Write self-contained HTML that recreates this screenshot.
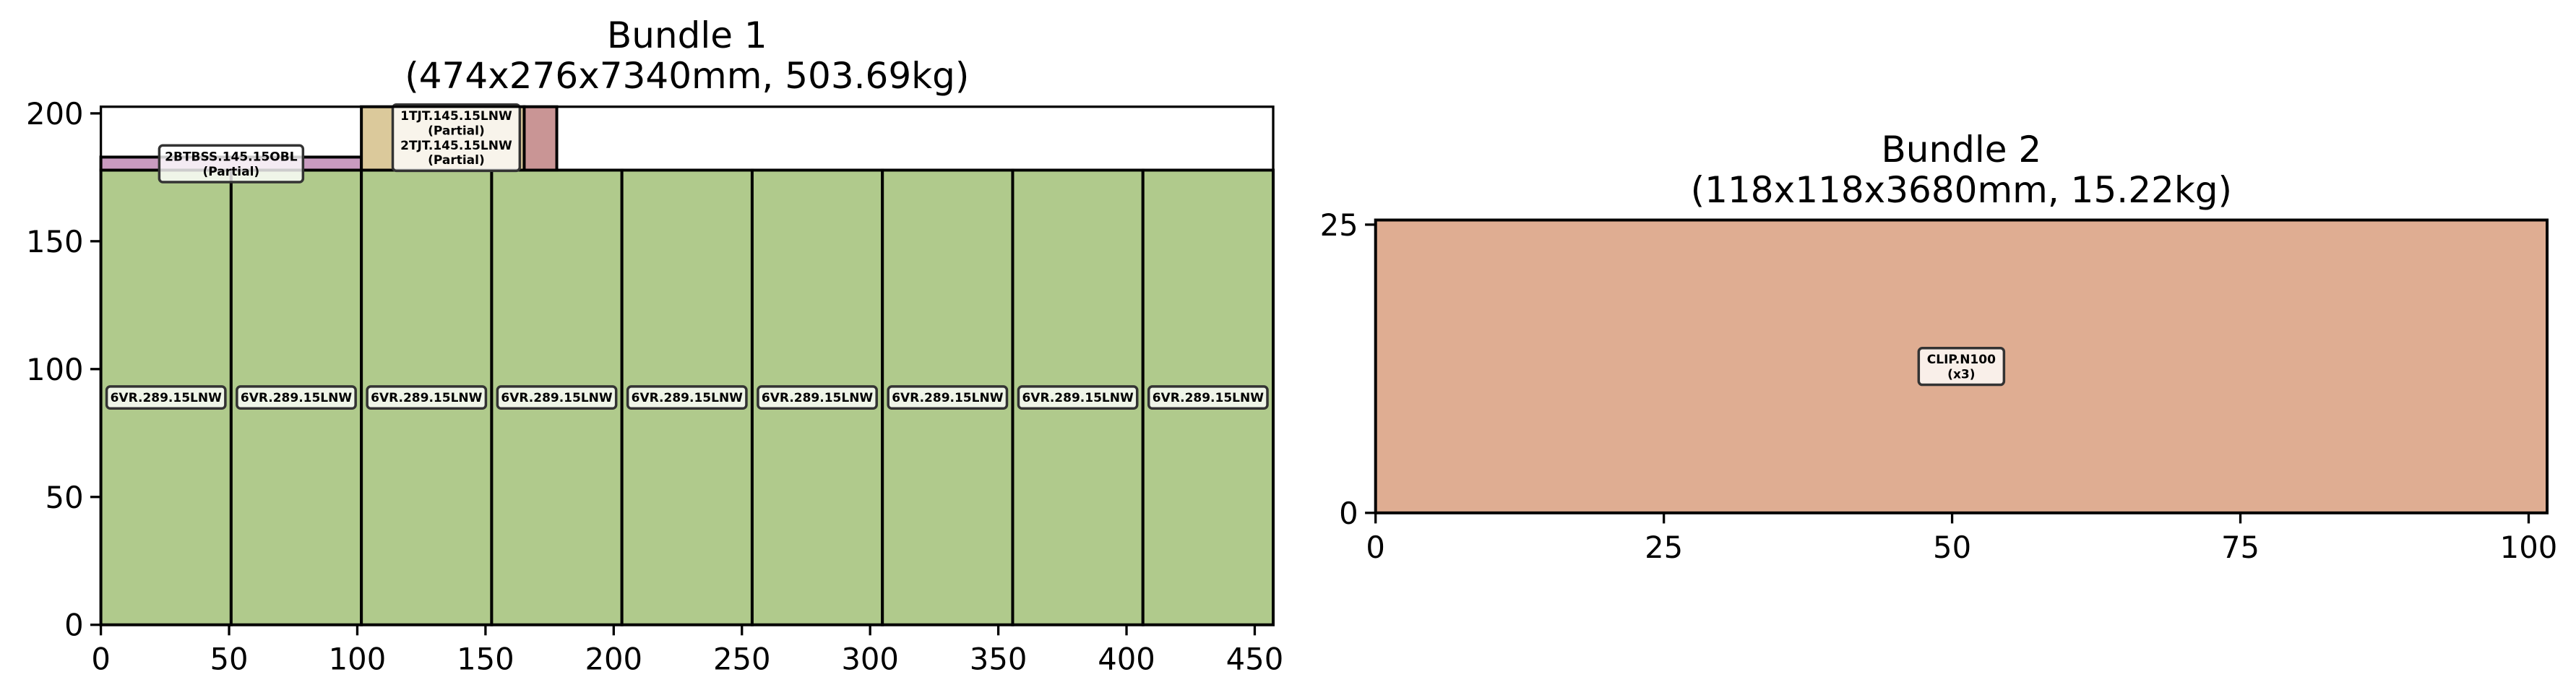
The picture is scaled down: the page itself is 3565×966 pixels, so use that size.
<!DOCTYPE html>
<html><head><meta charset="utf-8"><style>
html,body{margin:0;padding:0;background:#fff;}
svg{display:block;font-family:"DejaVu Sans","Liberation Sans",sans-serif;}
</style></head><body>
<svg id="fig" width="3565" height="966" viewBox="0 0 3565 966" xmlns="http://www.w3.org/2000/svg">
<defs><clipPath id="clip1"><rect x="139.6" y="147.7" width="1623" height="717"/></clipPath></defs>
<g id="c1"></g>
<g id="c2"></g>
</svg>
<script>
// Bundle 1 data (mm units)
const b1X0 = [0,50.8,101.6,152.4,203.2,254,304.8,355.6,406.4,0,101.6,165.1];
const b1W  = [50.8,50.8,50.8,50.8,50.8,50.8,50.8,50.8,50.8,101.6,63.5,12.7];
const b1Y0 = [0,0,0,0,0,0,0,0,0,177.8,177.8,177.8];
const b1H  = [177.8,177.8,177.8,177.8,177.8,177.8,177.8,177.8,177.8,5.1,24.8,24.8];
const b1Col = ['#b0ca8c','#b0ca8c','#b0ca8c','#b0ca8c','#b0ca8c','#b0ca8c','#b0ca8c','#b0ca8c','#b0ca8c','#c99bc0','#dbc99b','#c99595'];
const b1LabelText = [['6VR.289.15LNW'],['6VR.289.15LNW'],['6VR.289.15LNW'],['6VR.289.15LNW'],['6VR.289.15LNW'],['6VR.289.15LNW'],['6VR.289.15LNW'],['6VR.289.15LNW'],['6VR.289.15LNW'],['2BTBSS.145.15OBL','(Partial)'],['1TJT.145.15LNW','(Partial)','2TJT.145.15LNW','(Partial)']];
const b1LabelX = [25.4,76.2,127,177.8,228.6,279.4,330.2,381,431.8,50.8,138.6];
const b1LabelY = [88.9,88.9,88.9,88.9,88.9,88.9,88.9,88.9,88.9,180.3,190.5];
const b1XTicks = [0,50,100,150,200,250,300,350,400,450];
const b1YTicks = [0,50,100,150,200];
// Bundle 2 data
const b2X0 = [0];
const b2W = [101.6];
const b2Y0 = [0];
const b2H = [25.4];
const b2Col = ['#dfad92'];
const b2LabelText = [['CLIP.N100','(x3)']];
const b2LabelX = [50.8];
const b2LabelY = [12.7];
const b2XTicks = [0,25,50,75,100];
const b2YTicks = [0,25];

const NS='http://www.w3.org/2000/svg';
function mk(parent,tag,attrs){const e=document.createElementNS(NS,tag);for(const k in attrs)e.setAttribute(k,attrs[k]);parent.appendChild(e);return e;}

function draw(g,cfg){
  const sx=v=>cfg.L+(v-cfg.xmin)/(cfg.xmax-cfg.xmin)*(cfg.R-cfg.L);
  const sy=v=>cfg.B-(v-cfg.ymin)/(cfg.ymax-cfg.ymin)*(cfg.B-cfg.T);
  cfg.x0.forEach((x,i)=>{
    const r=mk(g,'rect',{x:sx(x),y:sy(cfg.y0[i]+cfg.h[i]),width:sx(x+cfg.w[i])-sx(x),height:sy(cfg.y0[i])-sy(cfg.y0[i]+cfg.h[i]),fill:cfg.col[i],stroke:'#000','stroke-width':4});
    
    
  });
  cfg.lt.forEach((lines,i)=>{
    const cx=sx(cfg.lx[i]),cy=sy(cfg.ly[i]);
    const fs=cfg.fs, lh=fs*1.2;
    let maxw=0; lines.forEach(s=>maxw=Math.max(maxw,s.length*fs*0.68));
    const bw=maxw+14, bh=lines.length*lh+10;
    const lg=mk(g,'g',{});
    
    
    mk(lg,'rect',{x:cx-bw/2,y:cy-bh/2,width:bw,height:bh,rx:5,fill:'#fff','fill-opacity':0.8,stroke:'#333','stroke-width':3.5});
    lines.forEach((s,j)=>{
      const t=mk(lg,'text',{x:cx,y:cy-bh/2+5+lh*(j+0.8),'text-anchor':'middle','font-size':fs,'font-weight':'bold',fill:'#000'});
      t.textContent=s;
    });
  });
  const ax=mk(g,'rect',{x:cfg.L,y:cfg.T,width:cfg.R-cfg.L,height:cfg.B-cfg.T,fill:'none',stroke:'#000','stroke-width':3.3});
  
  
  cfg.xt.forEach(v=>{
    mk(g,'line',{x1:sx(v),x2:sx(v),y1:cfg.B,y2:cfg.B+14.6,stroke:'#000','stroke-width':3.3});
    const t=mk(g,'text',{x:sx(v),y:cfg.B+62,'text-anchor':'middle','font-size':41.7,fill:'#000'});
    
    
    t.textContent=v;
  });
  cfg.yt.forEach(v=>{
    mk(g,'line',{x1:cfg.L-14.6,x2:cfg.L,y1:sy(v),y2:sy(v),stroke:'#000','stroke-width':3.3});
    const t=mk(g,'text',{x:cfg.L-24,y:sy(v)+15,'text-anchor':'end','font-size':41.7,fill:'#000'});
    
    
    t.textContent=v;
  });
  cfg.title.forEach((s,j)=>{
    const t=mk(g,'text',{x:(cfg.L+cfg.R)/2,y:cfg.tb[j],'text-anchor':'middle','font-size':50,fill:'#000'});
    
    
    t.textContent=s;
  });
}
draw(document.getElementById('c1'),{L:139.6,R:1762,T:147.7,B:864.7,xmin:0,xmax:457.2,ymin:0,ymax:202.6,
  x0:b1X0,w:b1W,y0:b1Y0,h:b1H,col:b1Col,lt:b1LabelText,lx:b1LabelX,ly:b1LabelY,xt:b1XTicks,yt:b1YTicks,fs:17,
  title:['Bundle 1','(474x276x7340mm, 503.69kg)'],tb:[66,122]});
draw(document.getElementById('c2'),{L:1903.7,R:3525,T:304.5,B:709.8,xmin:0,xmax:101.6,ymin:0,ymax:25.4,
  x0:b2X0,w:b2W,y0:b2Y0,h:b2H,col:b2Col,lt:b2LabelText,lx:b2LabelX,ly:b2LabelY,xt:b2XTicks,yt:b2YTicks,fs:17,
  title:['Bundle 2','(118x118x3680mm, 15.22kg)'],tb:[224,280]});
</script>
</body></html>
